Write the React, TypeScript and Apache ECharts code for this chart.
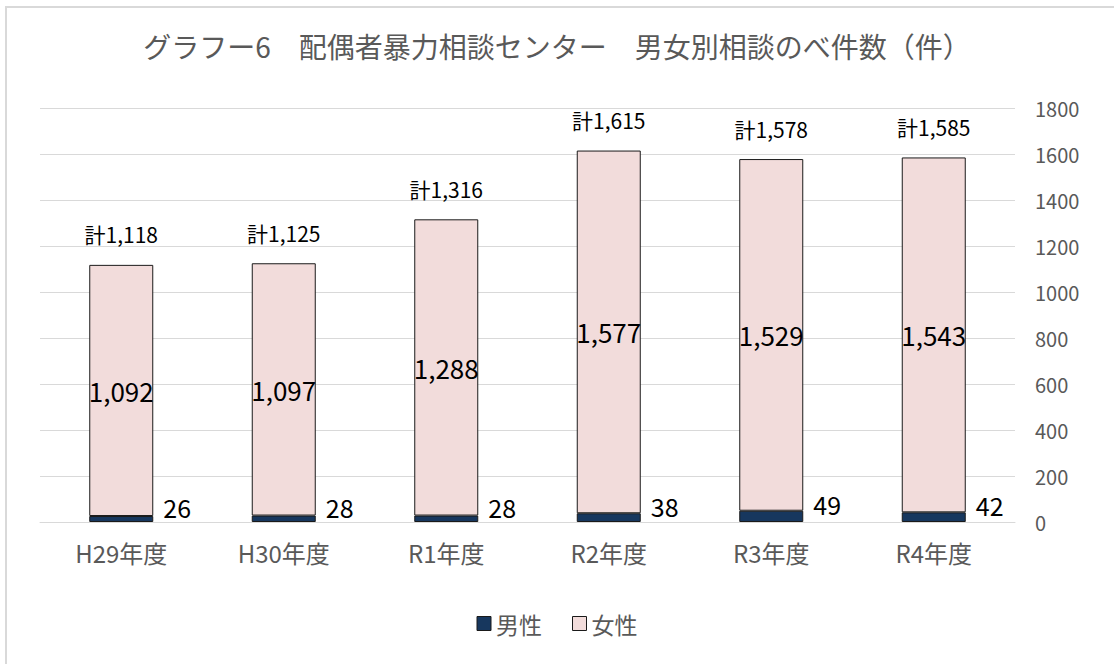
import React, { useEffect, useRef } from "react";
import * as echarts from "echarts";

const categories = ["H29年度", "H30年度", "R1年度", "R2年度", "R3年度", "R4年度"];
const maleValues = [26, 28, 28, 38, 49, 42];
const femaleValues = [1092, 1097, 1288, 1577, 1529, 1543];
const totalValues = [1118, 1125, 1316, 1615, 1578, 1585];
const yTicks = { min: 0, max: 1800, interval: 200 };
const titleText = "グラフー6　配偶者暴力相談センター　男女別相談のべ件数（件）";

const FONT = "'Noto Sans CJK JP', 'Noto Sans', sans-serif";
const fmt = (v: number) => v.toLocaleString("en-US");

export default function App() {
  const ref = useRef<HTMLDivElement>(null);
  useEffect(() => {
    if (!ref.current) return;
    const chart = echarts.init(ref.current, undefined, { renderer: "svg" });
    chart.setOption({
      animation: false,
      backgroundColor: "#ffffff",
      textStyle: { fontFamily: FONT },
      title: {
        text: titleText,
        left: "center",
        top: 27,
        textStyle: { fontFamily: FONT, fontSize: 28, fontWeight: "normal", color: "#595959" },
      },
      graphic: [
        {
          type: "rect",
          shape: { x: 6, y: 7, width: 1200, height: 800 },
          style: { fill: "none", stroke: "#d9d9d9", lineWidth: 2 },
          silent: true,
        },
      ],
      legend: {
        data: ["男性", "女性"],
        bottom: 24,
        left: "center",
        itemWidth: 14,
        itemHeight: 14,
        itemGap: 30,
        icon: "rect",
        itemStyle: { borderColor: "#1a1a1a", borderWidth: 1 },
        textStyle: { fontFamily: FONT, fontSize: 23, color: "#595959" },
      },
      grid: { left: 40, right: 99, top: 108, bottom: 142 },
      xAxis: {
        type: "category",
        data: categories,
        axisLine: { show: true, lineStyle: { color: "#d9d9d9" } },
        axisTick: { show: false },
        axisLabel: { fontFamily: FONT, fontSize: 24, color: "#595959", margin: 18 },
      },
      yAxis: {
        type: "value",
        position: "right",
        min: yTicks.min,
        max: yTicks.max,
        interval: yTicks.interval,
        axisLine: { show: false },
        axisTick: { show: false },
        splitLine: { lineStyle: { color: "#d9d9d9", width: 1 } },
        axisLabel: {
          fontFamily: FONT,
          fontSize: 20,
          color: "#595959",
          margin: 20,
          formatter: (v: number) => String(v),
        },
      },
      series: [
        {
          name: "男性",
          type: "bar",
          stack: "total",
          barWidth: 64,
          data: maleValues,
          itemStyle: { color: "#17375E", borderColor: "#1a1a1a", borderWidth: 1 },
          label: {
            show: true,
            position: "right",
            distance: 10,
            offset: [0, -12],
            fontFamily: FONT,
            fontSize: 25,
            color: "#000000",
            formatter: (p: any) => fmt(p.value),
          },
        },
        {
          name: "女性",
          type: "bar",
          stack: "total",
          barWidth: 64,
          data: femaleValues,
          itemStyle: { color: "#F2DCDB", borderColor: "#1a1a1a", borderWidth: 1 },
          label: {
            show: true,
            position: "inside",
            fontFamily: FONT,
            fontSize: 26,
            color: "#000000",
            formatter: (p: any) => fmt(p.value),
          },
        },
        {
          name: "計",
          type: "bar",
          stack: "total",
          barWidth: 64,
          data: totalValues.map(() => 0),
          itemStyle: { color: "transparent" },
          label: {
            show: true,
            position: "top",
            distance: 20,
            fontFamily: FONT,
            fontSize: 21,
            color: "#000000",
            formatter: (p: any) => "計" + fmt(totalValues[p.dataIndex]),
          },
        },
      ],
    });
    return () => chart.dispose();
  }, []);
  return (
    <div
      ref={ref}
      style={{ position: "fixed", left: 0, top: 0, width: 1114, height: 664 }}
    />
  );
}
